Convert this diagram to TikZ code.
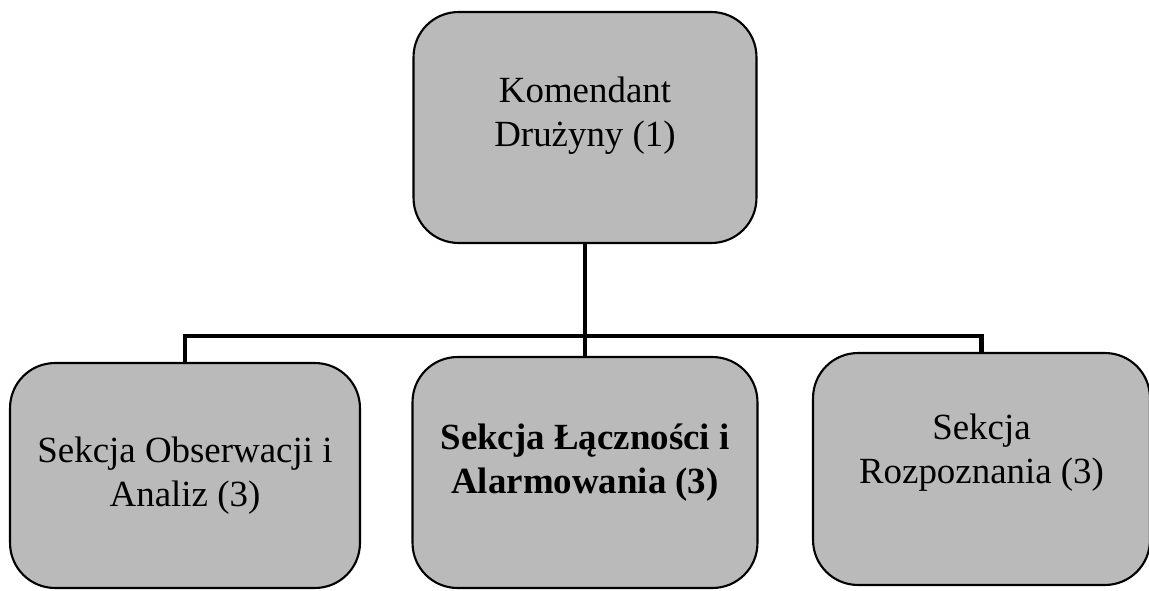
\documentclass[tikz,border=0pt]{standalone}
\usepackage{fontspec}
\setmainfont{Liberation Serif}

\begin{document}
\begin{tikzpicture}[x=0.02cm,y=-0.02cm,
    unit/.style={draw,line width=1.2pt,fill=black!27,rounded corners=0.9cm,
      align=center,inner sep=0pt,font=\fontsize{21}{25}\selectfont},
    link/.style={line width=2.8pt,draw,line cap=rect}]
    \useasboundingbox (0,0) rectangle (1149,591);

    \node[unit,minimum width=6.86cm,minimum height=4.62cm,text depth=0.62cm] (boss) at (585,127.5) {Komendant\\Drużyny (1)};
    \node[unit,minimum width=7.0cm,minimum height=4.5cm] (obs) at (185,475.5) {Sekcja Obserwacji i\\Analiz (3)};
    \node[unit,minimum width=6.9cm,minimum height=4.62cm,text depth=0.55cm,font=\fontsize{21}{25}\selectfont\bfseries] (alarm) at (585,472.5) {Sekcja Łączności i\\Alarmowania (3)};
    \node[unit,minimum width=6.74cm,minimum height=4.64cm,text depth=0.8cm] (recon) at (981.5,469) {Sekcja\\Rozpoznania (3)};

    \coordinate (hub) at (boss.south |- 0,336);
    \coordinate (barL) at (obs.north |- 0,336);
    \coordinate (barR) at (recon.north |- 0,336);

    \path[link] (boss.south) -- (hub);
    \path[link] (barL) -- (barR);
    \path[link] (hub) -- (alarm.north);
    \path[link] (barL) -- (obs.north);
    \path[link] (barR) -- (recon.north);
  \end{tikzpicture}
\end{document}
